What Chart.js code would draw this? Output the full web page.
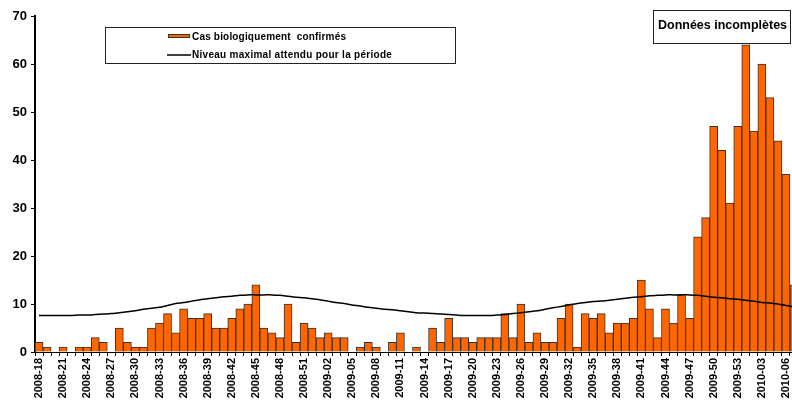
<!DOCTYPE html>
<html>
<head>
<meta charset="utf-8">
<script src="https://cdn.jsdelivr.net/npm/chart.js@4.4.1/dist/chart.umd.min.js"></script>
<style>
  html, body { margin: 0; padding: 0; background: #fff; overflow: hidden; width: 792px; height: 401px; }
  #wrap { width: 798px; height: 401px; }
</style>
</head>
<body>
<div id="wrap"><canvas id="chart" width="798" height="401"></canvas></div>
<script>
// weekly categories, 2008-18 to 2010-07 (the last one is cut by the frame)
const weeks = [
  '2008-18','2008-19','2008-20','2008-21','2008-22','2008-23','2008-24','2008-25','2008-26','2008-27',
  '2008-28','2008-29','2008-30','2008-31','2008-32','2008-33','2008-34','2008-35','2008-36','2008-37',
  '2008-38','2008-39','2008-40','2008-41','2008-42','2008-43','2008-44','2008-45','2008-46','2008-47',
  '2008-48','2008-49','2008-50','2008-51','2008-52',
  '2009-01','2009-02','2009-03','2009-04','2009-05','2009-06','2009-07','2009-08','2009-09','2009-10',
  '2009-11','2009-12','2009-13','2009-14','2009-15','2009-16','2009-17','2009-18','2009-19','2009-20',
  '2009-21','2009-22','2009-23','2009-24','2009-25','2009-26','2009-27','2009-28','2009-29','2009-30',
  '2009-31','2009-32','2009-33','2009-34','2009-35','2009-36','2009-37','2009-38','2009-39','2009-40',
  '2009-41','2009-42','2009-43','2009-44','2009-45','2009-46','2009-47','2009-48','2009-49','2009-50',
  '2009-51','2009-52','2009-53',
  '2010-01','2010-02','2010-03','2010-04','2010-05','2010-06','2010-07'
];

const confirmedCases = [
  2, 1, 0, 1, 0, 1, 1, 3, 2, 0,
  5, 2, 1, 1, 5, 6, 8, 4, 9, 7,
  7, 8, 5, 5, 7, 9, 10, 14, 5, 4,
  3, 10, 2, 6, 5,
  3, 4, 3, 3, 0, 1, 2, 1, 0, 2,
  4, 0, 1, 0, 5, 2, 7, 3, 3, 2,
  3, 3, 3, 8, 3, 10, 2, 4, 2, 2,
  7, 10, 1, 8, 7, 8, 4, 6, 6, 7,
  15, 9, 3, 9, 6, 12, 7, 24, 28, 47,
  42, 31, 47,
  64, 46, 60, 53, 44, 37, 14
];

const expectedMax = [
  7.6, 7.6, 7.6, 7.6, 7.6, 7.7, 7.7, 7.8, 7.9, 8.0,
  8.2, 8.4, 8.6, 8.9, 9.1, 9.3, 9.7, 10.1, 10.3, 10.6,
  10.9, 11.1, 11.3, 11.5, 11.6, 11.8, 11.9, 11.9, 11.9, 11.9,
  11.8, 11.6, 11.4, 11.3, 11.1,
  10.9, 10.6, 10.3, 10.1, 9.8, 9.6, 9.3, 9.1, 8.9, 8.8,
  8.6, 8.4, 8.2, 8.1, 8.0, 7.9, 7.8, 7.7, 7.6, 7.6,
  7.6, 7.6, 7.7, 7.8, 8.0, 8.2, 8.4, 8.6, 8.9, 9.2,
  9.5, 9.8, 10.1, 10.3, 10.5, 10.6, 10.8, 11.0, 11.2, 11.4,
  11.5, 11.7, 11.8, 11.9, 11.9, 11.9, 11.9, 11.8, 11.6, 11.4,
  11.3, 11.1, 11.0,
  10.8, 10.6, 10.3, 10.2, 10.0, 9.7, 9.4
];

const yTicks = [0, 10, 20, 30, 40, 50, 60, 70];

const FONT = '"Liberation Sans", Arial, sans-serif';

// squeeze/stretch a string to a given width with letter spacing
function fitText(ctx, text, x, y, width) {
  ctx.letterSpacing = '0px';
  const w = ctx.measureText(text).width;
  ctx.letterSpacing = ((width - w) / text.length).toFixed(2) + 'px';
  ctx.fillText(text, x, y);
  ctx.letterSpacing = '0px';
}

const boxes = {
  id: 'boxes',
  afterDraw(chart) {
    const ctx = chart.ctx;
    ctx.save();

    // legend box
    ctx.fillStyle = '#fff';
    ctx.fillRect(105.5, 27.5, 350, 36);
    ctx.strokeStyle = '#222';
    ctx.lineWidth = 1;
    ctx.strokeRect(105.5, 27.5, 350, 36);

    ctx.fillStyle = '#FF6600';
    ctx.fillRect(168, 34, 22, 4);
    ctx.strokeStyle = '#333';
    ctx.strokeRect(168.5, 34.5, 21, 3);

    ctx.strokeStyle = '#000';
    ctx.lineWidth = 1.5;
    ctx.beginPath();
    ctx.moveTo(167, 55);
    ctx.lineTo(191, 55);
    ctx.stroke();

    ctx.fillStyle = '#000';
    ctx.font = 'bold 10px ' + FONT;
    ctx.textBaseline = 'middle';
    fitText(ctx, 'Cas biologiquement  confirmés', 192, 37, 154);
    fitText(ctx, 'Niveau maximal attendu pour la période', 192, 55.5, 200);

    // "incomplete data" note
    ctx.fillStyle = '#fff';
    ctx.fillRect(653.5, 10.5, 137, 33);
    ctx.strokeStyle = '#222';
    ctx.lineWidth = 1;
    ctx.strokeRect(653.5, 10.5, 137, 33);
    ctx.fillStyle = '#000';
    ctx.font = 'bold 12.5px ' + FONT;
    fitText(ctx, 'Données incomplètes', 658, 26, 129);

    ctx.restore();
  }
};

const ctx = document.getElementById('chart').getContext('2d');

new Chart(ctx, {
  type: 'bar',
  data: {
    labels: weeks,
    datasets: [
      {
        type: 'line',
        label: 'Niveau maximal attendu pour la période',
        data: expectedMax,
        borderColor: '#000',
        borderWidth: 1.5,
        pointRadius: 0,
        tension: 0.2,
        order: 0
      },
      {
        type: 'bar',
        label: 'Cas biologiquement  confirmés',
        data: confirmedCases,
        backgroundColor: '#FF6600',
        borderColor: '#333',
        borderWidth: { top: 1, left: 1, right: 1, bottom: 0 },
        borderSkipped: false,
        categoryPercentage: 1,
        barPercentage: 1,
        order: 1
      }
    ]
  },
  options: {
    responsive: false,
    animation: false,
    layout: { padding: { top: 16, left: 0, right: 0, bottom: 0 } },
    plugins: {
      legend: { display: false },
      tooltip: { enabled: false }
    },
    scales: {
      x: {
        grid: { display: true, drawOnChartArea: false, offset: true, tickLength: 4, color: '#000' },
        border: { color: '#000', width: 1 },
        ticks: {
          autoSkip: false,
          minRotation: 90,
          maxRotation: 90,
          padding: 2,
          color: '#000',
          font: { family: FONT, weight: 'bold', size: 11 },
          callback: (v, i) => (i % 3 === 0 ? weeks[i] : '')
        },
        afterFit(scale) {
          scale.height = 49;
          scale.paddingLeft = 0;
          scale.paddingRight = 0;
        }
      },
      y: {
        min: 0,
        max: 70,
        afterBuildTicks(scale) { scale.ticks = yTicks.map(v => ({ value: v })); },
        ticks: {
          padding: 4,
          color: '#000',
          font: { family: FONT, weight: 'bold', size: 13 }
        },
        grid: { drawOnChartArea: false, tickLength: 4, color: '#000' },
        border: { color: '#000', width: 2 },
        afterFit(scale) { scale.width = 35; }
      }
    }
  },
  plugins: [boxes]
});
</script>
</body>
</html>
